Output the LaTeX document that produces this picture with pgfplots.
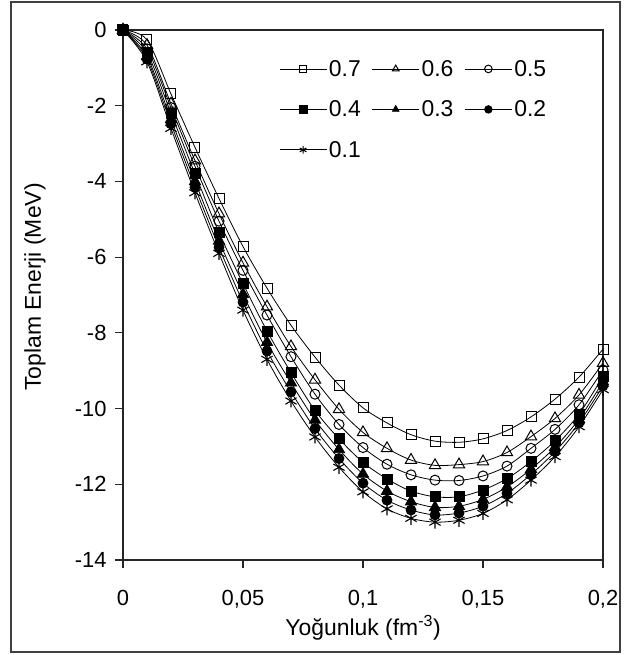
\documentclass[border=0pt]{standalone}
\usepackage{fontspec}
\setmainfont{Liberation Sans}
\usepackage{pgfplots}
\pgfplotsset{compat=1.18}
\usepackage{pgfplotstable}

\pgfplotstableread{
x    s7     s6     s5     s4     s3     s2     s1
0    0      0      0      0      0      0      0
0.01 -0.26  -0.40  -0.50  -0.60  -0.70  -0.77  -0.84
0.02 -1.69  -1.95  -2.05  -2.20  -2.36  -2.48  -2.60
0.03 -3.10  -3.45  -3.60  -3.80  -4.00  -4.15  -4.30
0.04 -4.45  -4.85  -5.05  -5.35  -5.57  -5.74  -5.90
0.05 -5.72  -6.15  -6.35  -6.70  -6.98  -7.19  -7.40
0.06 -6.82  -7.31  -7.53  -7.95  -8.25  -8.48  -8.70
0.07 -7.80  -8.36  -8.63  -9.05  -9.32  -9.56  -9.80
0.08 -8.64  -9.24  -9.62  -10.05 -10.30 -10.53 -10.75
0.09 -9.38  -10.02 -10.42 -10.80 -11.08 -11.32 -11.55
0.10 -9.98  -10.63 -11.03 -11.42 -11.73 -11.97 -12.20
0.11 -10.38 -11.05 -11.47 -11.86 -12.18 -12.42 -12.65
0.12 -10.69 -11.36 -11.75 -12.18 -12.46 -12.68 -12.90
0.13 -10.86 -11.50 -11.89 -12.33 -12.61 -12.81 -13.00
0.14 -10.89 -11.48 -11.90 -12.33 -12.58 -12.76 -12.95
0.15 -10.80 -11.40 -11.78 -12.15 -12.40 -12.58 -12.77
0.16 -10.58 -11.16 -11.52 -11.85 -12.07 -12.24 -12.41
0.17 -10.22 -10.74 -11.05 -11.40 -11.60 -11.74 -11.89
0.18 -9.75  -10.26 -10.55 -10.85 -11.02 -11.14 -11.27
0.19 -9.17  -9.64  -9.90  -10.15 -10.28 -10.38 -10.48
0.20 -8.43  -8.80  -8.98  -9.15  -9.29  -9.40  -9.50
}\datatable

\begin{document}
\begin{tikzpicture}
\begin{axis}[
  name=ax,
  at={(0,0)}, anchor=south west,
  scale only axis,
  width=480bp, height=530bp,
  xmin=0, xmax=0.2, ymin=-14, ymax=0,
  xtick={0,0.05,0.1,0.15,0.2},
  xticklabels={0,{0,05},{0,1},{0,15},{0,2}},
  ytick={-14,-12,-10,-8,-6,-4,-2,0},
  yticklabels={-14,-12,-10,-8,-6,-4,-2,0},
  xtick pos=bottom, ytick pos=left,
  tick align=outside,
  major tick length=8bp,
  axis line style={black!85, line width=1.2bp},
  tick style={black!85, line width=1.2bp},
  tick label style={font=\fontsize{22}{26}\selectfont},
  xticklabel style={yshift=-19bp},
  yticklabel style={xshift=-5bp},
  xlabel={Yoğunluk (fm\textsuperscript{-3})},
  ylabel={Toplam Enerji (MeV)},
  every axis x label/.style={at={(rel axis cs:0.5,0)}, yshift=-68bp, anchor=center, font=\fontsize{23}{27}\selectfont},
  every axis y label/.style={at={(rel axis cs:0,0.5)}, xshift=-88bp, yshift=8bp, rotate=90, anchor=center, font=\fontsize{23}{27}\selectfont},
  legend columns=3,
  legend cell align=left,
  legend image code/.code={\draw[mark repeat=2,mark phase=2,#1,mark size=3.8bp] plot coordinates {(0bp,0bp) (23.5bp,0bp) (47bp,0bp)};},
  legend style={draw=none, fill=none, inner sep=0pt,
    at={(rel axis cs:0,1)}, anchor=north west, xshift=156bp, yshift=-28bp,
    row sep=19bp,
    font=\fontsize{23}{27}\selectfont,
    /tikz/every even column/.append style={column sep=9bp}},
  every axis plot/.append style={black, line width=0.8bp, smooth},
]
\addplot[mark=square, mark size=5bp, mark options={fill=white, line width=1bp}] table[x=x,y=s7]{\datatable};
\addlegendentry{0.7}
\addplot[mark=triangle, mark size=6.5bp, mark options={fill=white, line width=1bp}] table[x=x,y=s6]{\datatable};
\addlegendentry{0.6}
\addplot[mark=o, mark size=5bp, mark options={fill=white, line width=1bp}] table[x=x,y=s5]{\datatable};
\addlegendentry{0.5}
\addplot[mark=square*, mark size=5bp, mark options={fill=black}] table[x=x,y=s4]{\datatable};
\addlegendentry{0.4}
\addplot[mark=triangle*, mark size=6.5bp, mark options={fill=black}] table[x=x,y=s3]{\datatable};
\addlegendentry{0.3}
\addplot[mark=*, mark size=5bp, mark options={fill=black}] table[x=x,y=s2]{\datatable};
\addlegendentry{0.2}
\addplot[mark=asterisk, mark size=6.5bp, mark options={line width=1.1bp}] table[x=x,y=s1]{\datatable};
\addlegendentry{0.1}
\end{axis}
\draw[black!75, line width=1.5bp] ([xshift=-112bp,yshift=-92bp]ax.south west) rectangle ([xshift=17bp,yshift=28bp]ax.north east);
\path ([xshift=-123bp,yshift=-95bp]ax.south west) rectangle ([xshift=24bp,yshift=30bp]ax.north east);
\end{tikzpicture}
\end{document}
